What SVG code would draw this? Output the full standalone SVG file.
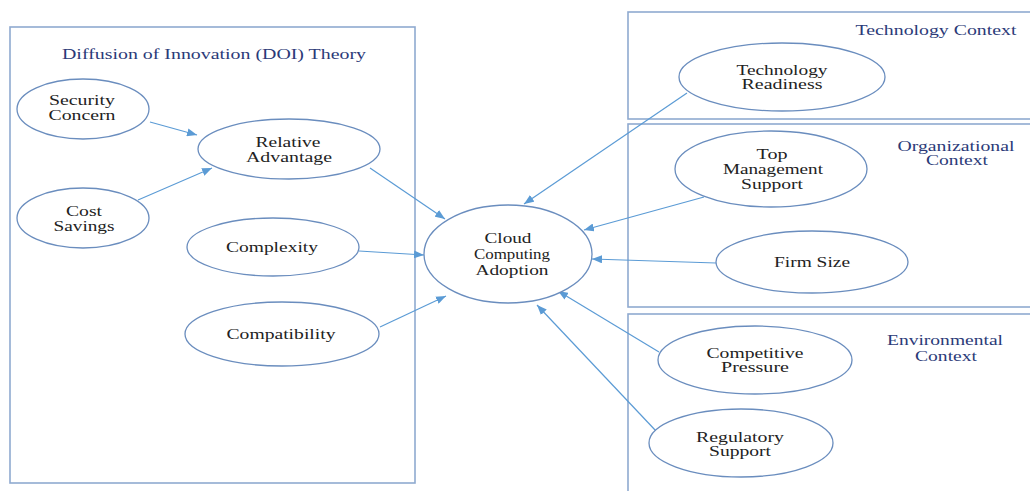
<svg xmlns="http://www.w3.org/2000/svg" width="1030" height="491" viewBox="0 0 1030 491">
<style>
.box{fill:none;stroke:#8FAAD0;stroke-width:1.6}
.node{fill:#fff;stroke:#6A8DBE;stroke-width:1.3}
.t{font-family:"Liberation Serif","Times New Roman",serif;font-size:15px;fill:#222;text-anchor:middle}
.lbl{font-family:"Liberation Serif","Times New Roman",serif;font-size:15px;fill:#2B3A78;text-anchor:middle}
.c{stroke:#5B9BD5;stroke-width:1.2;fill:none;marker-end:url(#ah)}
</style>
<defs>
<marker id="ah" markerUnits="userSpaceOnUse" markerWidth="10" markerHeight="8" refX="10" refY="4" orient="auto">
<path d="M0,0 L10,4 L0,8 Z" fill="#5B9BD5"/>
</marker>
</defs>
<rect width="1030" height="491" fill="#fff"/>
<g id="doi-box"><rect class="box" x="10" y="27" width="405" height="456"/>
<text class="lbl" x="214" y="59" textLength="304" lengthAdjust="spacingAndGlyphs">Diffusion of Innovation (DOI) Theory</text></g>
<g id="tech-box"><rect class="box" x="628" y="12" width="410" height="107"/>
<text class="lbl" x="936" y="35" textLength="161" lengthAdjust="spacingAndGlyphs">Technology Context</text></g>
<g id="org-box"><rect class="box" x="628" y="124" width="410" height="183"/>
<text class="lbl" x="956" y="151" textLength="117" lengthAdjust="spacingAndGlyphs">Organizational</text>
<text class="lbl" x="957" y="165" textLength="62" lengthAdjust="spacingAndGlyphs">Context</text></g>
<g id="env-box"><rect class="box" x="628" y="314" width="410" height="190"/>
<text class="lbl" x="945" y="345" textLength="116" lengthAdjust="spacingAndGlyphs">Environmental</text>
<text class="lbl" x="946" y="361" textLength="62" lengthAdjust="spacingAndGlyphs">Context</text></g>
<g id="connectors">
<line class="c" x1="150" y1="122" x2="197" y2="135"/>
<line class="c" x1="138" y1="200" x2="212" y2="168"/>
<line class="c" x1="370" y1="168" x2="445" y2="219"/>
<line class="c" x1="359" y1="251" x2="424" y2="255"/>
<line class="c" x1="380" y1="327" x2="446" y2="296"/>
<line class="c" x1="687" y1="93" x2="524" y2="204"/>
<line class="c" x1="704" y1="197" x2="584" y2="230"/>
<line class="c" x1="716" y1="263" x2="592" y2="259"/>
<line class="c" x1="659" y1="352" x2="558" y2="291"/>
<line class="c" x1="656" y1="431" x2="537" y2="305"/>
</g>
<g id="security-concern"><ellipse class="node" cx="83" cy="109" rx="66" ry="30"/>
<text class="t" x="82" y="105" textLength="66" lengthAdjust="spacingAndGlyphs">Security</text>
<text class="t" x="82" y="120" textLength="67" lengthAdjust="spacingAndGlyphs">Concern</text></g>
<g id="cost-savings"><ellipse class="node" cx="83" cy="218" rx="66" ry="30"/>
<text class="t" x="84" y="216" textLength="36" lengthAdjust="spacingAndGlyphs">Cost</text>
<text class="t" x="84" y="231" textLength="61" lengthAdjust="spacingAndGlyphs">Savings</text></g>
<g id="relative-advantage"><ellipse class="node" cx="289" cy="149" rx="91" ry="30"/>
<text class="t" x="288" y="147" textLength="65" lengthAdjust="spacingAndGlyphs">Relative</text>
<text class="t" x="289" y="162" textLength="86" lengthAdjust="spacingAndGlyphs">Advantage</text></g>
<g id="complexity"><ellipse class="node" cx="273" cy="247" rx="86" ry="29"/>
<text class="t" x="272" y="252" textLength="92" lengthAdjust="spacingAndGlyphs">Complexity</text></g>
<g id="compatibility"><ellipse class="node" cx="282" cy="334" rx="97" ry="32"/>
<text class="t" x="281" y="339" textLength="109" lengthAdjust="spacingAndGlyphs">Compatibility</text></g>
<g id="cloud-computing-adoption"><ellipse class="node" cx="508" cy="254" rx="84" ry="49"/>
<text class="t" x="508" y="243" textLength="47" lengthAdjust="spacingAndGlyphs">Cloud</text>
<text class="t" x="512" y="259" textLength="76" lengthAdjust="spacingAndGlyphs">Computing</text>
<text class="t" x="512" y="275" textLength="73" lengthAdjust="spacingAndGlyphs">Adoption</text></g>
<g id="technology-readiness"><ellipse class="node" cx="782" cy="77" rx="103" ry="34"/>
<text class="t" x="782" y="75" textLength="91" lengthAdjust="spacingAndGlyphs">Technology</text>
<text class="t" x="782" y="89" textLength="81" lengthAdjust="spacingAndGlyphs">Readiness</text></g>
<g id="top-management-support"><ellipse class="node" cx="771" cy="169" rx="96" ry="38"/>
<text class="t" x="772" y="159" textLength="31" lengthAdjust="spacingAndGlyphs">Top</text>
<text class="t" x="773" y="174" textLength="100" lengthAdjust="spacingAndGlyphs">Management</text>
<text class="t" x="772" y="189" textLength="62" lengthAdjust="spacingAndGlyphs">Support</text></g>
<g id="firm-size"><ellipse class="node" cx="812" cy="262" rx="96" ry="31"/>
<text class="t" x="812" y="267" textLength="76" lengthAdjust="spacingAndGlyphs">Firm Size</text></g>
<g id="competitive-pressure"><ellipse class="node" cx="755" cy="360" rx="97" ry="34"/>
<text class="t" x="755" y="358" textLength="97" lengthAdjust="spacingAndGlyphs">Competitive</text>
<text class="t" x="755" y="372" textLength="68" lengthAdjust="spacingAndGlyphs">Pressure</text></g>
<g id="regulatory-support"><ellipse class="node" cx="741" cy="443" rx="92" ry="34"/>
<text class="t" x="740" y="442" textLength="88" lengthAdjust="spacingAndGlyphs">Regulatory</text>
<text class="t" x="740" y="456" textLength="62" lengthAdjust="spacingAndGlyphs">Support</text></g>
</svg>
